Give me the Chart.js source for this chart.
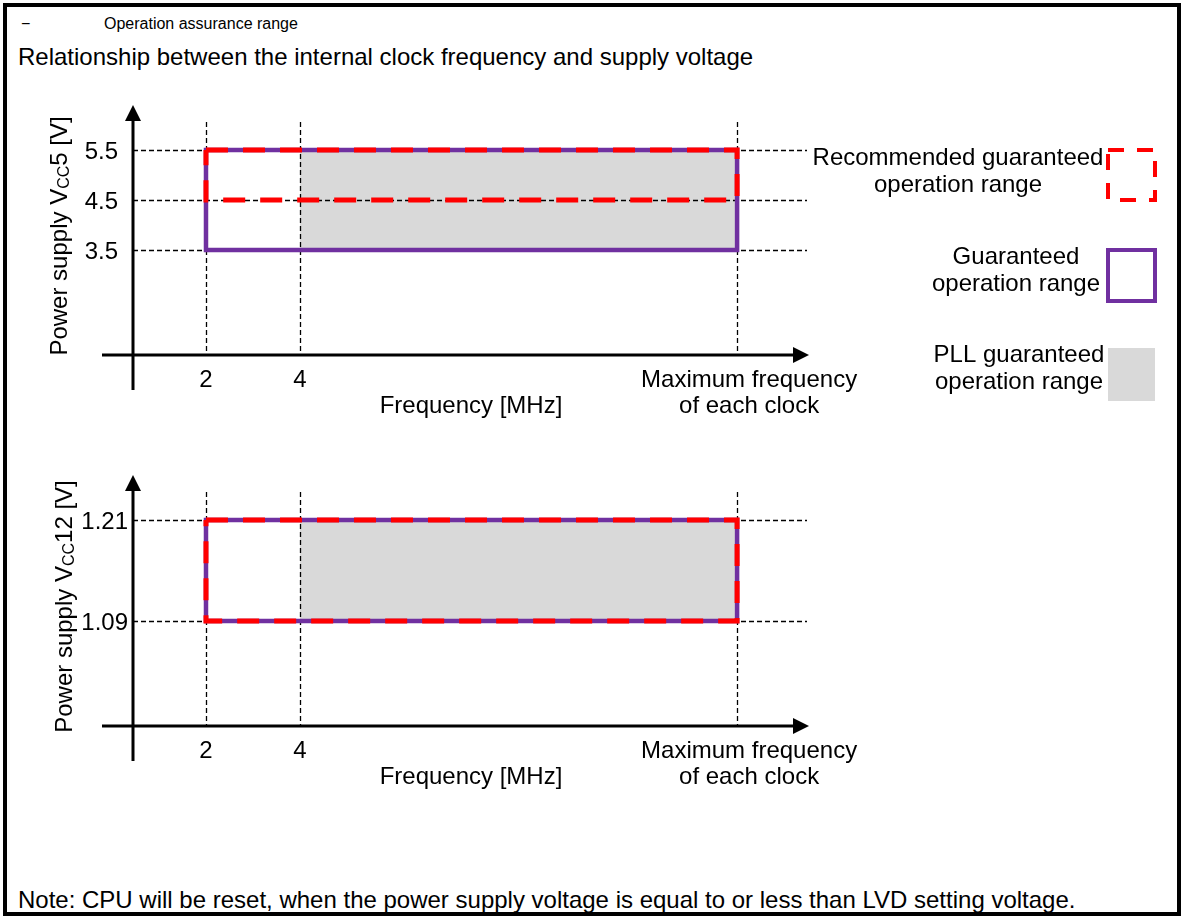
<!DOCTYPE html>
<html>
<head>
<meta charset="utf-8">
<title>Operation assurance range</title>
<script src="https://cdn.jsdelivr.net/npm/chart.js@4.4.1/dist/chart.umd.min.js"></script>
<style>
  body { margin: 0; background: #fff; font-family: "Liberation Sans", Arial, sans-serif; }
  #frame { position: absolute; left: 3px; top: 3px; width: 1170px; height: 905px; border: 4px solid #000; }
  .txt { position: absolute; white-space: nowrap; color: #000; line-height: 1; }
  .box { position: absolute; left: 0; width: 1183px; height: 340px; }
</style>
</head>
<body>
<div id="frame"></div>
<div class="txt" style="left:21px;top:16px;font-size:16px">&minus;</div>
<div class="txt" style="left:104px;top:16px;font-size:16px">Operation assurance range</div>
<div class="txt" style="left:18px;top:45px;font-size:24px">Relationship between the internal clock frequency and supply voltage</div>
<div class="txt" style="left:18px;top:888px;font-size:24px">Note: CPU will be reset, when the power supply voltage is equal to or less than LVD setting voltage.</div>

<div class="box" style="top:90px"><canvas id="vcc5"></canvas></div>
<div class="box" style="top:455px"><canvas id="vcc12"></canvas></div>

<script>
// frequency axis (schematic: 13.3 marks where "maximum frequency" sits)
const fMin = 2;
const fPll = 4;
const fMax = 13.3;
const freqTicks = [2, 4, 13.3];
const freqLabels = [['2'], ['4'], ['Maximum frequency', 'of each clock']];

// VCC5
const vcc5Ticks = [3.5, 4.5, 5.5];
const vcc5Labels = ['3.5', '4.5', '5.5'];
const vcc5Guaranteed = [3.5, 5.5];
const vcc5Recommended = [4.5, 5.5];

// VCC12
const vcc12Ticks = [1.09, 1.21];
const vcc12Labels = ['1.09', '1.21'];
const vcc12Guaranteed = [1.09, 1.21];
const vcc12Recommended = [1.09, 1.21];

const legendLabels = [
    ['Recommended guaranteed', 'operation range'],
    ['Guaranteed', 'operation range'],
    ['PLL guaranteed', 'operation range']
];

const RED = '#ff0000';
const PURPLE = '#7030a0';
const GRAY = '#d9d9d9';
const FONT = '"Liberation Sans", Arial, sans-serif';

function box(x0, x1, y0, y1) {
    return [{x: x0, y: y1}, {x: x1, y: y1}, {x: x1, y: y0}, {x: x0, y: y0}, {x: x0, y: y1}];
}

function drawTitle(ctx, cx, cy, parts) {
    ctx.save();
    ctx.translate(cx, cy);
    ctx.rotate(-Math.PI / 2);
    ctx.textAlign = 'left';
    ctx.textBaseline = 'alphabetic';
    var total = 0;
    parts.forEach(p => {
        ctx.font = p.size + 'px ' + FONT;
        p.w = ctx.measureText(p.text).width;
        total += p.w;
    });
    var x = -total / 2;
    parts.forEach(p => {
        ctx.font = p.size + 'px ' + FONT;
        ctx.fillText(p.text, x, p.dy || 0);
        x += p.w;
    });
    ctx.restore();
}

const diagram = {
    id: 'diagram',
    afterDatasetDraw(chart, args, opts) {
        // dashed guide lines go over the gray fill, under the outlines
        if (args.index !== 0) return;
        const ctx = chart.ctx;
        const a = chart.chartArea;
        const x = chart.scales.x, y = chart.scales.y;
        ctx.save();
        ctx.strokeStyle = '#000';
        ctx.lineWidth = 1.3;
        ctx.setLineDash([5, 3]);
        opts.yTicks.forEach(v => {
            var py = Math.round(y.getPixelForValue(v)) + 0.5;
            ctx.beginPath();
            ctx.moveTo(a.left, py);
            ctx.lineTo(a.right - 2, py);
            ctx.stroke();
        });
        freqTicks.forEach(v => {
            var px = Math.round(x.getPixelForValue(v)) + 0.5;
            ctx.beginPath();
            ctx.moveTo(px, a.top + 17);
            ctx.lineTo(px, a.bottom);
            ctx.stroke();
        });
        ctx.restore();
    },
    afterDraw(chart, args, opts) {
        const ctx = chart.ctx;
        const a = chart.chartArea;
        const x = chart.scales.x, y = chart.scales.y;
        ctx.save();

        // axes with arrow heads
        ctx.strokeStyle = '#000';
        ctx.fillStyle = '#000';
        ctx.lineWidth = 3;
        ctx.beginPath();
        ctx.moveTo(a.left, a.bottom + 35);
        ctx.lineTo(a.left, a.top + 12);
        ctx.moveTo(a.left - 31, a.bottom);
        ctx.lineTo(a.right - 12, a.bottom);
        ctx.stroke();
        ctx.beginPath();
        ctx.moveTo(a.left, a.top);
        ctx.lineTo(a.left - 8, a.top + 16);
        ctx.lineTo(a.left + 8, a.top + 16);
        ctx.closePath();
        ctx.moveTo(a.right, a.bottom);
        ctx.lineTo(a.right - 16, a.bottom - 8);
        ctx.lineTo(a.right - 16, a.bottom + 8);
        ctx.closePath();
        ctx.fill();

        // tick labels
        ctx.font = '24px ' + FONT;
        ctx.textBaseline = 'alphabetic';
        ctx.textAlign = 'right';
        opts.yTicks.forEach((v, i) => {
            ctx.fillText(opts.yLabels[i], a.left - opts.labelGap, y.getPixelForValue(v) + 9);
        });
        ctx.textAlign = 'center';
        freqTicks.forEach((v, i) => {
            var px = x.getPixelForValue(v) + (freqLabels[i].length > 1 ? 12 : 0);
            freqLabels[i].forEach((line, j) => {
                ctx.fillText(line, px, a.bottom + 32 + j * 26);
            });
        });
        ctx.fillText('Frequency [MHz]', (a.left + a.right) / 2, a.bottom + 58);

        drawTitle(ctx, opts.titleX, (a.top + a.bottom) / 2 + 6, opts.yTitle);

        if (opts.legend) {
            ctx.fillStyle = '#000';
            ctx.font = '24px ' + FONT;
            ctx.textAlign = 'center';
            var lx = [958, 1016, 1019];
            var ly = [75, 174, 272];
            legendLabels.forEach((lines, i) => {
                lines.forEach((line, j) => ctx.fillText(line, lx[i], ly[i] + j * 27));
            });
            ctx.fillStyle = GRAY;
            ctx.fillRect(1108, 258, 47, 53);
            ctx.lineWidth = 4;
            ctx.strokeStyle = PURPLE;
            ctx.strokeRect(1108, 160, 47, 51);
            ctx.strokeStyle = RED;
            ctx.setLineDash([16, 13]);
            ctx.strokeRect(1108, 60, 47, 50);
        }
        ctx.restore();
    }
};

function makeChart(id, cfg) {
    return new Chart(document.getElementById(id), {
        type: 'line',
        data: {
            datasets: [{
                label: 'PLL guaranteed operation range',
                data: [{x: fPll, y: cfg.guaranteed[1]}, {x: fMax, y: cfg.guaranteed[1]}],
                fill: {value: cfg.guaranteed[0]},
                backgroundColor: GRAY,
                borderWidth: 0,
                pointRadius: 0,
                order: 3
            }, {
                label: 'Guaranteed operation range',
                data: box(fMin, fMax, cfg.guaranteed[0], cfg.guaranteed[1]),
                borderColor: PURPLE,
                borderWidth: 4.5,
                borderCapStyle: 'square',
                borderJoinStyle: 'miter',
                pointRadius: 0,
                fill: false,
                order: 2
            }, {
                label: 'Recommended guaranteed operation range',
                data: box(fMin, fMax, cfg.recommended[0], cfg.recommended[1]),
                borderColor: RED,
                borderWidth: 5,
                borderDash: [22, 15],
                borderJoinStyle: 'miter',
                pointRadius: 0,
                fill: false,
                order: 1
            }]
        },
        options: {
            responsive: true,
            maintainAspectRatio: false,
            animation: false,
            events: [],
            layout: {padding: cfg.padding},
            plugins: {
                legend: {display: false},
                tooltip: {enabled: false},
                diagram: cfg.diagram
            },
            scales: {
                x: {type: 'linear', min: 0.447, max: 14.83, display: false},
                y: {type: 'linear', min: cfg.yMin, max: cfg.yMax, display: false}
            }
        },
        plugins: [diagram]
    });
}

makeChart('vcc5', {
    guaranteed: vcc5Guaranteed,
    recommended: vcc5Recommended,
    yMin: 1.4, yMax: 6.4,
    padding: {left: 133, right: 374, top: 15, bottom: 75},
    diagram: {
        yTicks: vcc5Ticks, yLabels: vcc5Labels, legend: true, labelGap: 15, titleX: 67,
        yTitle: [{text: 'Power supply V', size: 24}, {text: 'CC', size: 16, dy: 2}, {text: '5 [V]', size: 24}]
    }
});

makeChart('vcc12', {
    guaranteed: vcc12Guaranteed,
    recommended: vcc12Recommended,
    yMin: 0.9652, yMax: 1.2635,
    padding: {left: 133, right: 374, top: 20, bottom: 69},
    diagram: {
        yTicks: vcc12Ticks, yLabels: vcc12Labels, legend: false, labelGap: 5, titleX: 72,
        yTitle: [{text: 'Power supply V', size: 24}, {text: 'CC', size: 16, dy: 2}, {text: '12 [V]', size: 24}]
    }
});
</script>
</body>
</html>
